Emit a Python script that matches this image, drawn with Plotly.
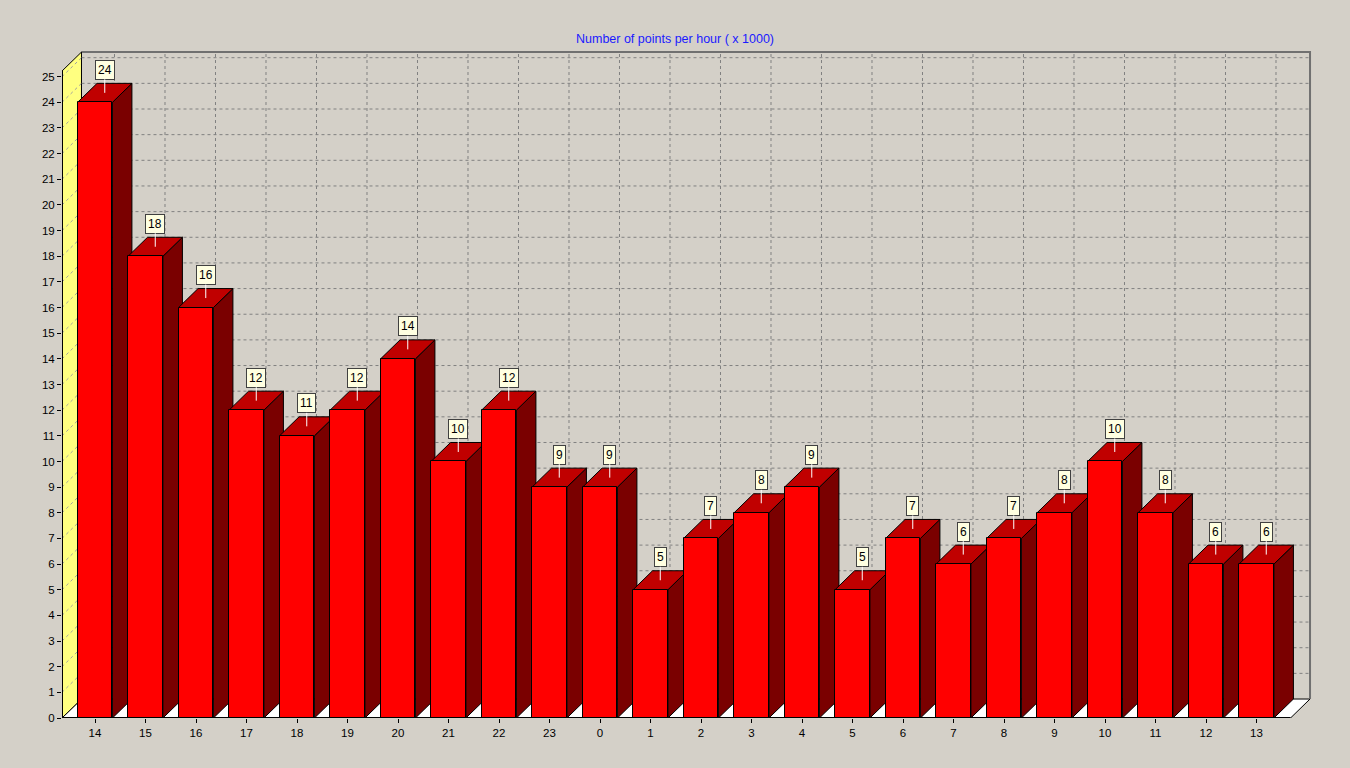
import plotly.graph_objects as go

# -----------------------------------
# Data
# -----------------------------------

hours = ["14", "15", "16", "17", "18", "19", "20", "21", "22", "23",
         "0", "1", "2", "3", "4", "5", "6", "7", "8", "9",
         "10", "11", "12", "13"]

points = [24, 18, 16, 12, 11, 12, 14, 10, 12, 9,
          9, 5, 7, 8, 9, 5, 7, 6, 7, 8,
          10, 8, 6, 6]

y_ticks = list(range(0, 26))

title_text = "Number of points per hour ( x 1000)"

# -----------------------------------
# 3D look (data units)
# -----------------------------------

bar_w = 0.69
dx = 0.386
dy = 0.74

x_front0 = -0.6535
x_back1 = 24.06
x_front1 = x_back1 - dx
x_max = 24.099
y_max = 26.04
y_back_top = 25.96
y_wall_top = y_back_top - dy

bg = "#D4D0C8"
grid = "#808080"

idx = list(range(len(hours)))

fig = go.Figure()

fig.add_trace(
    go.Bar(
        x=idx,
        y=points,
        width=bar_w,
        marker=dict(color="#FF0000", line=dict(color="#000000", width=1)),
        hovertemplate="<b>%{customdata}</b><br>Value: %{y}<extra></extra>",
        customdata=hours,
    )
)

shapes = []

# floor
shapes.append(dict(
    type="path", layer="below", xref="x", yref="y",
    path=f"M {x_front0},0 L {x_front1},0 L {x_back1},{dy} L {x_front0 + dx},{dy} Z",
    fillcolor="#FFFFFF", line=dict(color="#000000", width=1),
))

# back plane grid
for k in y_ticks[1:]:
    shapes.append(dict(
        type="line", layer="below", xref="x", yref="y",
        x0=x_front0 + dx, x1=x_back1, y0=k + dy, y1=k + dy,
        line=dict(color=grid, width=1, dash="dot"),
    ))
for i in idx:
    shapes.append(dict(
        type="line", layer="below", xref="x", yref="y",
        x0=i + dx, x1=i + dx, y0=dy, y1=y_back_top,
        line=dict(color=grid, width=1, dash="dot"),
    ))

# back plane border (top, right)
shapes.append(dict(
    type="path", layer="below", xref="x", yref="y",
    path=f"M {x_front0 + dx},{y_back_top} L {x_back1},{y_back_top} L {x_back1},{dy}",
    line=dict(color="#707070", width=2),
))

# left wall
shapes.append(dict(
    type="path", layer="below", xref="x", yref="y",
    path=f"M {x_front0},0 L {x_front0},{y_wall_top} L {x_front0 + dx},{y_back_top} L {x_front0 + dx},{dy} Z",
    fillcolor="#FFFF80", line=dict(color="#000000", width=1),
))
for k in y_ticks[1:]:
    shapes.append(dict(
        type="line", layer="below", xref="x", yref="y",
        x0=x_front0, x1=x_front0 + dx, y0=k, y1=k + dy,
        line=dict(color="#A0A0A0", width=1, dash="dot"),
    ))
shapes.append(dict(
    type="line", layer="below", xref="x", yref="y",
    x0=x_front0, x1=x_front0, y0=0, y1=y_wall_top,
    line=dict(color="#000000", width=2),
))

# bar sides and tops
for i, v in zip(idx, points):
    xl = i - bar_w / 2
    xr = i + bar_w / 2
    shapes.append(dict(
        type="path", layer="below", xref="x", yref="y",
        path=f"M {xr},0 L {xr + dx},{dy} L {xr + dx},{v + dy} L {xr},{v} Z",
        fillcolor="#7A0000", line=dict(color="#000000", width=1),
    ))
    shapes.append(dict(
        type="path", layer="below", xref="x", yref="y",
        path=f"M {xl},{v} L {xl + dx},{v + dy} L {xr + dx},{v + dy} L {xr},{v} Z",
        fillcolor="#C00000", line=dict(color="#000000", width=1),
    ))

# front floor edge
shapes.append(dict(
    type="line", xref="x", yref="y",
    x0=x_front0, x1=x_front1, y0=0, y1=0,
    line=dict(color="#000000", width=2),
))

annotations = []

for i, v in zip(idx, points):
    annotations.append(dict(
        x=i + dx / 2, y=v + dy / 2, xref="x", yref="y",
        text=str(v), showarrow=True, arrowhead=0, arrowwidth=1,
        arrowcolor="#FFFFFF", ax=0, ay=-23,
        bgcolor="#FFFFE1", bordercolor="#404040", borderwidth=1, borderpad=2,
        font=dict(family="Liberation Sans, Arial", size=12, color="#000000"),
    ))

fig.update_layout(
    width=1350,
    height=768,
    margin=dict(l=62, r=38, t=50, b=50),
    paper_bgcolor=bg,
    plot_bgcolor=bg,
    showlegend=False,
    bargap=0,
    font=dict(family="Liberation Sans, Arial", size=11, color="#000000"),
    title=dict(
        text=title_text,
        x=0.5, xanchor="center",
        y=1 - 39 / 768, yanchor="middle",
        font=dict(family="Liberation Sans, Arial", size=12.5, color="#1A1AFF"),
    ),
    xaxis=dict(
        range=[x_front0, x_max],
        tickvals=idx,
        ticktext=hours,
        ticks="outside", ticklen=4, tickcolor="#000000",
        showgrid=False, zeroline=False, showline=False,
        tickfont=dict(size=11.5),
        fixedrange=True,
    ),
    yaxis=dict(
        range=[0, y_max],
        tickvals=y_ticks,
        ticks="outside", ticklen=4, tickcolor="#000000",
        showgrid=False, zeroline=False, showline=False,
        tickfont=dict(size=11.5),
        fixedrange=True,
    ),
    shapes=shapes,
    annotations=annotations,
)

fig.write_html(
    "out.html",
    config={"displayModeBar": False},
    post_script="document.body.style.margin='0';document.body.style.background='#D4D0C8';",
)
